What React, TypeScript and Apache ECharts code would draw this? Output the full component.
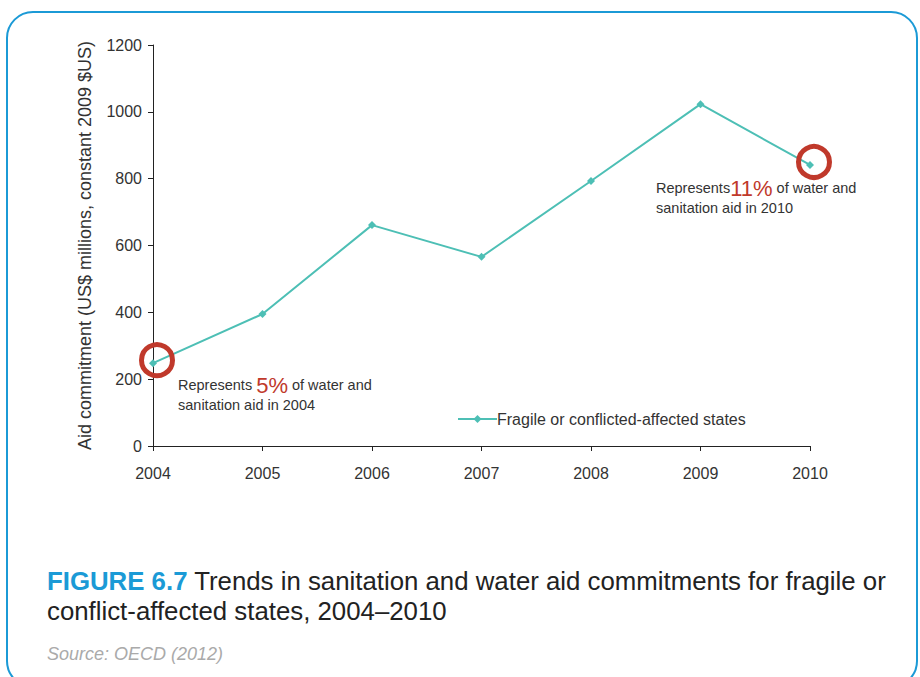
import React, { useEffect, useRef } from "react";
import * as echarts from "echarts";

const years = ["2004", "2005", "2006", "2007", "2008", "2009", "2010"];
const commitments = [248, 395, 661, 566, 793, 1023, 841];
const highlighted = [
  ["2004", 248],
  ["2010", 841],
];
const yTicks = { min: 0, max: 1200, interval: 200 };

const FONT = "'Liberation Sans', Arial, sans-serif";
const TEAL = "#4dbfb5";
const RED = "#c0392b";
const BLUE = "#1b9ad6";

export default function App() {
  const ref = useRef<HTMLDivElement>(null);
  useEffect(() => {
    if (!ref.current) return;
    const chart = echarts.init(ref.current, undefined, { renderer: "svg" });
    chart.setOption({
      animation: false,
      textStyle: { fontFamily: FONT },
      grid: { left: 153, right: 110, top: 45, bottom: 231 },
      legend: {
        left: 452,
        top: 406,
        itemWidth: 39,
        itemHeight: 10,
        itemGap: 2,
        data: ["Fragile or conflicted-affected states"],
        textStyle: { fontSize: 16, color: "#333", fontFamily: FONT, padding: [0, 0, 0, -5] },
      },
      xAxis: {
        type: "category",
        data: years,
        boundaryGap: false,
        axisLine: { lineStyle: { color: "#222", width: 1 } },
        axisTick: { alignWithLabel: true, length: 5, lineStyle: { color: "#222" } },
        axisLabel: { fontSize: 16, color: "#333", margin: 19 },
      },
      yAxis: {
        type: "value",
        min: yTicks.min,
        max: yTicks.max,
        interval: yTicks.interval,
        name: "Aid commitment (US$ millions, constant 2009 $US)",
        nameLocation: "middle",
        nameGap: 59,
        nameTextStyle: { fontSize: 18, color: "#333" },
        axisLine: { show: true, lineStyle: { color: "#222", width: 1 } },
        axisTick: { show: true, length: 5, lineStyle: { color: "#222" } },
        axisLabel: { fontSize: 16, color: "#333", margin: 11, formatter: (v: number) => String(v) },
        splitLine: { show: false },
      },
      series: [
        {
          name: "Fragile or conflicted-affected states",
          type: "line",
          data: commitments,
          symbol: "diamond",
          symbolSize: 8,
          lineStyle: { color: TEAL, width: 2 },
          itemStyle: { color: TEAL },
          z: 3,
        },
        {
          name: "highlight",
          type: "scatter",
          data: highlighted,
          symbol: "circle",
          symbolSize: 31,
          symbolOffset: [4, -3],
          itemStyle: { color: "rgba(0,0,0,0)", borderColor: RED, borderWidth: 5, opacity: 1 },
          z: 4,
          silent: true,
        },
      ],
      graphic: [
        {
          type: "rect",
          shape: { x: 7, y: 12, width: 910, height: 675, r: 26 },
          style: { fill: "none", stroke: BLUE, lineWidth: 2 },
          silent: true,
        },
        {
          type: "text",
          left: 178,
          top: 374,
          style: {
            text: "Represents {r|5%} of water and\nsanitation aid in 2004",
            font: `14.5px ${FONT}`,
            fill: "#333",
            lineHeight: 20,
            rich: { r: { fontSize: 22, fill: RED, fontFamily: FONT } },
          },
        },
        {
          type: "text",
          left: 656,
          top: 177,
          style: {
            text: "Represents{r|11%} of water and\nsanitation aid in 2010",
            font: `14.5px ${FONT}`,
            fill: "#333",
            lineHeight: 20,
            rich: { r: { fontSize: 22, fill: RED, fontFamily: FONT } },
          },
        },
        {
          type: "text",
          left: 47,
          top: 566,
          style: {
            text: "{b|FIGURE 6.7} Trends in sanitation and water aid commitments for fragile or\nconflict-affected states, 2004–2010",
            font: `25.8px ${FONT}`,
            fill: "#222",
            lineHeight: 30,
            rich: { b: { fontSize: 25.8, fontWeight: "bold", fill: BLUE, fontFamily: FONT } },
          },
        },
        {
          type: "text",
          left: 47,
          top: 645,
          style: {
            text: "Source: OECD (2012)",
            font: `italic 18px ${FONT}`,
            fill: "#aaa",
          },
        },
      ],
    });
    return () => chart.dispose();
  }, []);
  return (
    <div
      ref={ref}
      style={{ position: "fixed", left: 0, top: 0, width: 920, height: 677, background: "#fff" }}
    />
  );
}
